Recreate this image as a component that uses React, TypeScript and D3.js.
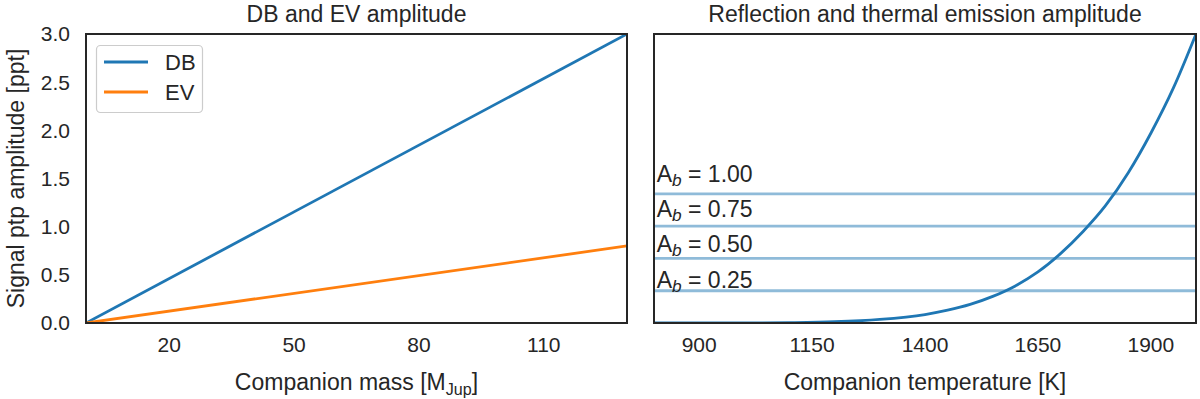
import React from 'react';
import * as d3 from 'd3';

// left panel: amplitude vs companion mass
const massPoints = [0, 130];
const dbValues = [0, 3.0];
const evValues = [0, 0.8];
const massTicks = [20, 50, 80, 110];

// right panel: thermal emission vs temperature
const tempPoints = [800, 900, 1000, 1100, 1200, 1300, 1400, 1450, 1500, 1550, 1600, 1650, 1700, 1750, 1800, 1850, 1900, 1950, 2000];
const thermalValues = [0, 0.0002, 0.001, 0.004, 0.013, 0.037, 0.088, 0.133, 0.193, 0.276, 0.385, 0.53, 0.72, 0.95, 1.22, 1.56, 1.97, 2.44, 3.0];
const tempTicks = [900, 1150, 1400, 1650, 1900];

// reflection amplitude per bond albedo
const albedoLabels = ['0.25', '0.50', '0.75', '1.00'];
const reflectionValues = [0.335, 0.67, 1.005, 1.34];
const albedoTextY = [0.363, 0.74, 1.104, 1.467];

const yTicks = [0, 0.5, 1.0, 1.5, 2.0, 2.5, 3.0];

const BLUE = '#1f77b4';
const ORANGE = '#ff7f0e';
const INK = '#262626';
const FONT = '"Liberation Sans", Arial, sans-serif';

const top = 34;
const bottom = 323;
const leftPanel = [86, 627];
const rightPanel = [654, 1196];

export default function App() {
  const y = d3.scaleLinear().domain([0, 3]).range([bottom, top]);
  const xMass = d3.scaleLinear().domain([0, 130]).range(leftPanel);
  const xTemp = d3.scaleLinear().domain([800, 2000]).range(rightPanel);

  const massLine = (vals: number[]) =>
    d3.line<number>().x((_, i) => xMass(massPoints[i])).y(d => y(d))(vals) || '';
  const thermalPath =
    d3.line<number>()
      .x((_, i) => xTemp(tempPoints[i]))
      .y(d => y(d))
      .curve(d3.curveMonotoneX)(thermalValues) || '';

  const fs = 23;
  const tfs = 21;

  return (
    <svg width={1200} height={399} style={{ position: 'absolute', left: 0, top: 0 }}
      fontFamily={FONT} fill={INK}>
      <rect width={1200} height={399} fill="white" />

      {/* titles */}
      <text x={(leftPanel[0] + leftPanel[1]) / 2} y={22} textAnchor="middle" fontSize={fs}>DB and EV amplitude</text>
      <text x={(rightPanel[0] + rightPanel[1]) / 2} y={22} textAnchor="middle" fontSize={fs}>Reflection and thermal emission amplitude</text>

      {/* y axis */}
      {yTicks.map(t => (
        <text key={t} x={70} y={y(t)} dy="0.35em" textAnchor="end" fontSize={tfs}>{t.toFixed(1)}</text>
      ))}
      <text transform={`translate(24,${(top + bottom) / 2}) rotate(-90)`} textAnchor="middle" fontSize={fs}>
        Signal ptp amplitude [ppt]
      </text>

      {/* left panel */}
      <g clipPath="url(#clipL)">
        <path d={massLine(dbValues)} fill="none" stroke={BLUE} strokeWidth={2.8} />
        <path d={massLine(evValues)} fill="none" stroke={ORANGE} strokeWidth={2.8} />
      </g>
      <defs>
        <clipPath id="clipL"><rect x={leftPanel[0]} y={top} width={leftPanel[1] - leftPanel[0]} height={bottom - top} /></clipPath>
        <clipPath id="clipR"><rect x={rightPanel[0]} y={top} width={rightPanel[1] - rightPanel[0]} height={bottom - top} /></clipPath>
      </defs>
      <rect x={leftPanel[0]} y={top} width={leftPanel[1] - leftPanel[0]} height={bottom - top}
        fill="none" stroke={INK} strokeWidth={2} />
      {massTicks.map(t => (
        <text key={t} x={xMass(t)} y={352} textAnchor="middle" fontSize={tfs}>{t}</text>
      ))}
      <text x={(leftPanel[0] + leftPanel[1]) / 2} y={390} textAnchor="middle" fontSize={fs}>
        Companion mass [M<tspan fontSize={fs * 0.7} dy={5}>Jup</tspan><tspan dy={-5}>]</tspan>
      </text>

      {/* legend */}
      <rect x={96.5} y={45.5} width={106} height={67} rx={4} fill="white" fillOpacity={0.8} stroke="#cccccc" strokeWidth={1.2} />
      <line x1={104} x2={148} y1={62} y2={62} stroke={BLUE} strokeWidth={2.8} />
      <line x1={104} x2={148} y1={92} y2={92} stroke={ORANGE} strokeWidth={2.8} />
      <text x={165} y={62} dy="0.35em" fontSize={22}>DB</text>
      <text x={165} y={92} dy="0.35em" fontSize={22}>EV</text>

      {/* right panel */}
      <g clipPath="url(#clipR)">
        {reflectionValues.map((v, i) => (
          <line key={i} x1={rightPanel[0]} x2={rightPanel[1]} y1={y(v)} y2={y(v)} stroke={BLUE} strokeOpacity={0.5} strokeWidth={2.8} />
        ))}
        <path d={thermalPath} fill="none" stroke={BLUE} strokeWidth={2.8} />
      </g>
      {albedoLabels.map((lab, i) => (
        <text key={lab} x={xTemp(806)} y={y(albedoTextY[i])} fontSize={fs}>
          A<tspan fontStyle="italic" fontSize={fs * 0.75} dy={4}>b</tspan><tspan dy={-4}> = {lab}</tspan>
        </text>
      ))}
      <rect x={rightPanel[0]} y={top} width={rightPanel[1] - rightPanel[0]} height={bottom - top}
        fill="none" stroke={INK} strokeWidth={2} />
      {tempTicks.map(t => (
        <text key={t} x={xTemp(t)} y={352} textAnchor="middle" fontSize={tfs}>{t}</text>
      ))}
      <text x={(rightPanel[0] + rightPanel[1]) / 2} y={390} textAnchor="middle" fontSize={fs}>
        Companion temperature [K]
      </text>
    </svg>
  );
}
